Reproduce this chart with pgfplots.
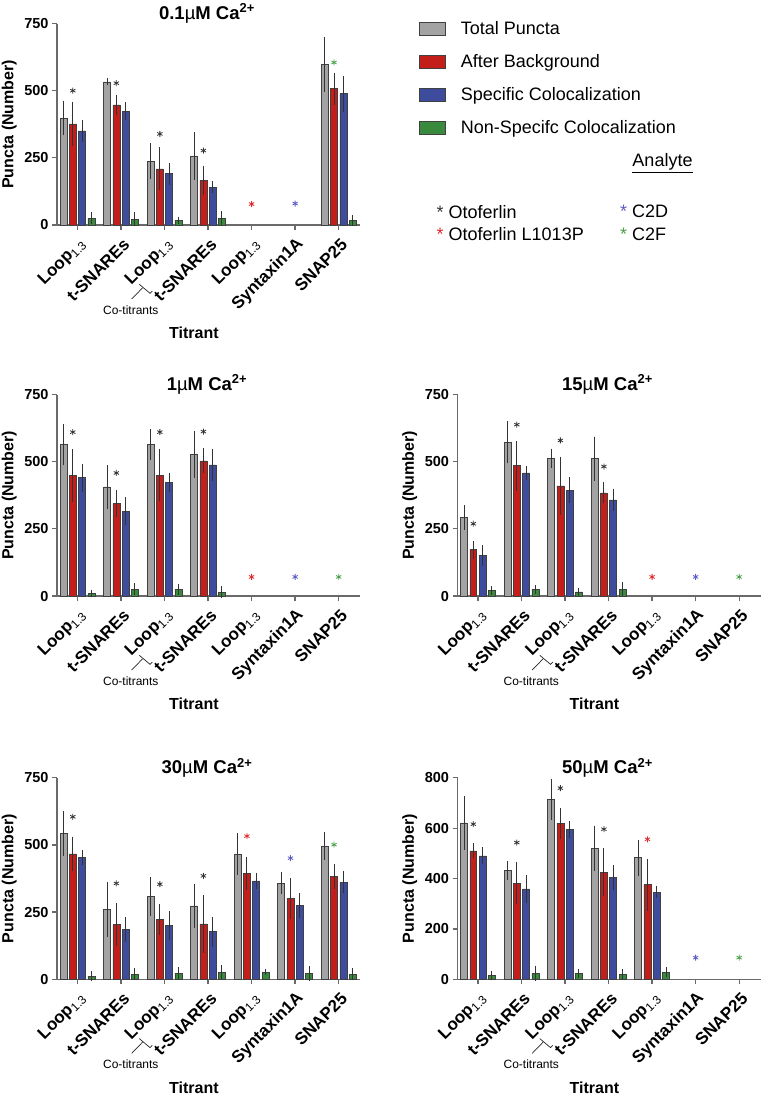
\documentclass[border=0pt]{standalone}
\usepackage{fontspec}
\setmainfont{Liberation Sans}
\usepackage{pgfplots}
\pgfplotsset{compat=1.18}
\usepackage{pgfplotstable}

\definecolor{cgrey}{HTML}{A3A3A3}
\definecolor{cred}{HTML}{C41E1A}
\definecolor{cblue}{HTML}{3E4C9E}
\definecolor{cgreen}{HTML}{3A8A3E}
\definecolor{axgrey}{HTML}{6A6A6A}
\definecolor{sred}{HTML}{E0282A}
\definecolor{sblue}{HTML}{5C5CC4}
\definecolor{sgreen}{HTML}{4AA04A}
\definecolor{sblack}{HTML}{333333}

% x g eg r er b eb n en : grey/red/blue/green means and errors
\pgfplotstableread{
x g eg r er b eb n en
0 398 55 376 71 350 30 26 12
1 533 4 447 29 423 24 22 18
2 238 57 209 71 191 31 17 5
3 257 81 166 46 140 13 26 16
6 598 94 507 51 489 58 16 11
}\tA
\pgfplotstableread{
x g eg r er b eb n en
0 563 67 449 88 440 42 9 5
1 406 72 344 40 316 43 26 12
2 563 49 450 88 424 26 24 11
3 527 79 503 37 488 51 14 13
}\tB
\pgfplotstableread{
x g eg r er b eb n en
0 292 36 172 24 150 30 20 8
1 572 69 485 83 458 18 25 8
2 513 26 410 99 394 38 15 6
3 511 73 384 30 358 32 25 17
}\tC
\pgfplotstableread{
x g eg r er b eb n en
0 543 73 467 55 454 18 12 9
1 260 92 204 71 185 37 19 13
2 309 63 223 48 200 44 22 14
3 273 71 206 98 177 47 27 16
4 466 68 394 53 366 21 27 3
5 357 32 300 66 275 36 22 19
6 496 42 383 36 361 31 19 14
}\tD
\pgfplotstableread{
x g eg r er b eb n en
0 621 96 510 20 490 24 15 8
1 432 29 381 73 359 46 24 20
2 714 73 619 53 595 24 23 9
3 519 81 426 84 404 40 21 11
4 483 61 376 93 346 13 29 11
}\tE

\pgfplotsset{
  panel/.style={
    scale only axis, width=303pt, height=201.5pt,
    xmin=-0.47, xmax=6.49, ymin=0, ymax=750,
    ytick={0,250,500,750},
    axis lines=left,
    axis line style={-, axgrey, line width=1.3pt},
    tick style={axgrey, line width=1.3pt},
    tick align=outside, major tick length=5pt,
    xtick={0,...,6},
    xticklabels={Loop\textsubscript{\mdseries 1.3},t-SNAREs,Loop\textsubscript{\mdseries 1.3},t-SNAREs,Loop\textsubscript{\mdseries 1.3},Syntaxin1A,SNAP25},
    x tick label style={font=\bfseries\fontsize{17}{19}\selectfont, yshift=-9pt, xshift=8pt, rotate=45, anchor=east},
    y tick label style={font=\bfseries\fontsize{14.5}{16}\selectfont},
    /pgf/number format/assume math mode=true,
    ylabel={Puncta (Number)},
    ylabel style={at={(axis description cs:-0.158,0.5)}, anchor=center, font=\bfseries\fontsize{16}{18}\selectfont},
    xlabel={Titrant},
    xlabel style={at={(axis description cs:0.452,-0.536)}, anchor=center, font=\bfseries\fontsize{16}{18}\selectfont},
    every axis title shift=0pt,
    title style={at={(axis description cs:0.495,1.022)}, anchor=base, font=\bfseries\fontsize{18.5}{20}\selectfont},
    clip=false,
  },
  barst/.style={ybar, bar width=0.16, bar shift=0pt, draw=black!75, line width=0.6pt,
    legend image code/.code={\draw[##1, line width=0.8pt] (0pt,-6.5pt) rectangle (26pt,6.5pt);},
    error bars/y dir=both, error bars/y explicit,
    error bars/error bar style={black!80, line width=1pt},
    error bars/error mark options={black!80, line width=1pt, mark size=2.5pt}},
  star/.style={only marks, mark=asterisk, mark size=3pt, line width=0.8pt, #1, mark options={#1}},
}

\newcommand{\bars}[1]{%
  \addplot[barst, fill=cgrey] table[x expr=\thisrow{x}-0.32, y=g, y error=eg] {#1};
  \addplot[barst, fill=cred] table[x expr=\thisrow{x}-0.107, y=r, y error=er] {#1};
  \addplot[barst, fill=cblue] table[x expr=\thisrow{x}+0.107, y=b, y error=eb] {#1};
  \addplot[barst, fill=cgreen] table[x expr=\thisrow{x}+0.32, y=n, y error=en] {#1};
}

\newcommand{\cotit}[2]{%
  \begin{scope}[shift={(#1pt,-#2pt)}]
    \draw[black!85, line width=0.7pt] (82.3pt,-59.3pt) -- (93pt,-68.3pt) -- (95.3pt,-66pt);
    \draw[black!85, line width=0.7pt] (85.7pt,-62.7pt) -- (74.7pt,-74pt);
    \node[font=\fontsize{12}{14}\selectfont] at (73.8pt,-85pt) {Co-titrants};
  \end{scope}
}

\begin{document}
\begin{tikzpicture}
\path[use as bounding box] (0,0) rectangle (762pt,-1095pt);

% ---------- 0.1 uM ----------
\begin{axis}[panel, at={(57pt,-225pt)}, anchor=south west,
  title={0.1{\mdseries µ}M Ca\textsuperscript{2+}},
  legend cell align=left,
  legend style={at={(axis description cs:1.184,1.032)}, anchor=north west, draw=none, fill=none,
    font=\fontsize{18}{20}\selectfont, row sep=14.5pt,
    /tikz/every odd column/.append style={column sep=13pt}}]
  \bars{\tA}
  \addplot[star=sblack] coordinates {(-0.107,500) (0.893,528) (1.893,339) (2.893,277)};
  \addplot[star=sred] coordinates {(4,78)};
  \addplot[star=sblue] coordinates {(5,80)};
  \addplot[star=sgreen] coordinates {(5.893,605)};
  \legend{Total Puncta, After Background, Specific Colocalization, Non-Specifc Colocalization}
\end{axis}
\cotit{57}{225}

% legend for analytes
\node[anchor=center, font=\fontsize{18}{20}\selectfont] at (662.5pt,-163.3pt) {\underline{Analyte}};
\node[anchor=west, inner sep=0pt, font=\fontsize{18}{20}\selectfont] at (436.5pt,-211.7pt) {\textcolor{sblack}{*} Otoferlin};
\node[anchor=west, inner sep=0pt, font=\fontsize{18}{20}\selectfont] at (436.5pt,-234.3pt) {\textcolor{sred}{*} Otoferlin L1013P};
\node[anchor=west, inner sep=0pt, font=\fontsize{18}{20}\selectfont] at (619.8pt,-211.7pt) {\textcolor{sblue}{*} C2D};
\node[anchor=west, inner sep=0pt, font=\fontsize{18}{20}\selectfont] at (619.8pt,-234.3pt) {\textcolor{sgreen}{*} C2F};

% ---------- 1 uM ----------
\begin{axis}[panel, at={(57pt,-596pt)}, anchor=south west,
  title={1{\mdseries µ}M Ca\textsuperscript{2+}}]
  \bars{\tB}
  \addplot[star=sblack] coordinates {(-0.107,610) (0.893,458) (1.893,610) (2.893,612)};
  \addplot[star=sred] coordinates {(4,71)};
  \addplot[star=sblue] coordinates {(5,71)};
  \addplot[star=sgreen] coordinates {(6,71)};
\end{axis}
\cotit{57}{596}

% ---------- 15 uM ----------
\begin{axis}[panel, at={(457.5pt,-596pt)}, anchor=south west,
  title={15{\mdseries µ}M Ca\textsuperscript{2+}}]
  \bars{\tC}
  \addplot[star=sblack] coordinates {(-0.107,269) (0.893,638) (1.893,579) (2.893,482)};
  \addplot[star=sred] coordinates {(4,71)};
  \addplot[star=sblue] coordinates {(5,71)};
  \addplot[star=sgreen] coordinates {(6,71)};
\end{axis}
\cotit{457.5}{596}

% ---------- 30 uM ----------
\begin{axis}[panel, at={(57pt,-979.3pt)}, anchor=south west,
  title={30{\mdseries µ}M Ca\textsuperscript{2+}}]
  \bars{\tD}
  \addplot[star=sblack] coordinates {(-0.107,605) (0.893,357) (1.893,354) (2.893,385)};
  \addplot[star=sred] coordinates {(3.893,533)};
  \addplot[star=sblue] coordinates {(4.893,451)};
  \addplot[star=sgreen] coordinates {(5.893,501)};
\end{axis}
\cotit{57}{979.3}

% ---------- 50 uM ----------
\begin{axis}[panel, at={(457.5pt,-979.3pt)}, anchor=south west,
  ymax=800, ytick={0,200,400,600,800},
  title={50{\mdseries µ}M Ca\textsuperscript{2+}}]
  \bars{\tE}
  \addplot[star=sblack] coordinates {(-0.107,616) (0.893,543) (1.893,759) (2.893,596)};
  \addplot[star=sred] coordinates {(3.893,556)};
  \addplot[star=sblue] coordinates {(5,86)};
  \addplot[star=sgreen] coordinates {(6,86)};
\end{axis}
\cotit{457.5}{979.3}

\end{tikzpicture}
\end{document}
